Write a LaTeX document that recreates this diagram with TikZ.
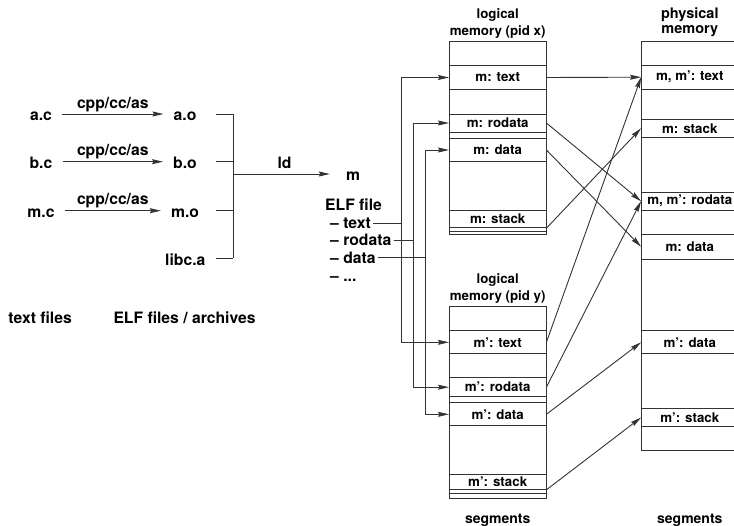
\documentclass[tikz,border=0pt]{standalone}
\usepackage{fontspec}
\setmainfont{TeX Gyre Heros}
\usetikzlibrary{arrows.meta,positioning}
\definecolor{linec}{gray}{0.2}

\begin{document}
\begin{tikzpicture}[x=1pt, y=-1pt,
    file/.style={font=\fontsize{15.7}{18}\selectfont\bfseries, text height=13.5pt, text depth=0pt, inner xsep=10pt, inner ysep=0pt},
    elf/.style={font=\fontsize{15.7}{18}\selectfont\bfseries, anchor=base west, inner xsep=2pt},
    lbl/.style={font=\fontsize{15.7}{18}\selectfont\bfseries, above, text depth=3.5pt, inner sep=2pt},
    note/.style={font=\fontsize{15.7}{18}\selectfont\bfseries, anchor=base west, inner sep=0pt},
    mem/.style={draw=linec, line width=0.9pt, minimum width=96.5pt, inner sep=0pt},
    seg/.style={mem, font=\fontsize{13.3}{16}\selectfont\bfseries},
    title/.style={align=center, anchor=south, inner sep=0pt},
    arrow/.style={draw=linec, line width=0.9pt, -{Stealth[length=11pt, width=5pt, inset=1.5pt]}},
    wire/.style={draw=linec, line width=0.9pt}
]
\useasboundingbox (0,0) rectangle (734,526);

% Source files
\node[file] (ac) at (41,114) {a.c};
\node[file] (bc) at (41,161.7) {b.c};
\node[file] (mc) at (41,210.7) {m.c};

% Object files and archive
\node[file] (ao) at (185,114) {a.o};
\node[file] (bo) at (185,161.7) {b.o};
\node[file] (mo) at (185,210.7) {m.o};
\node[file] (libc) at (185.3,258.3) {libc.a};

% Executable
\node[file] (m) at (353,174) {m};
\node[elf] (elf) at (323,210.7) {ELF file};
\node[elf] (etext) at (328,228.3) {-- text};
\node[elf] (erodata) at (328,245.7) {-- rodata};
\node[elf] (edata) at (328,263.3) {-- data};
\node[elf] (edots) at (328,281.7) {-- ...};

% Bottom notes
\node[note] (srcnote) at (8.3,324) {text files};
\node[note] (objnote) at (113.3,324) {ELF files / archives};

% Bus and column coordinates
\coordinate (stub) at (215.7,0);
\coordinate (bus) at (233.3,0);
\coordinate (tcol) at (401.7,0);
\coordinate (rcol) at (413.3,0);
\coordinate (dcol) at (425.7,0);

% Logical memory (pid x)
\node[mem, minimum height=192.8pt] (xmem) at (497.7,138.1) {};
\node[seg, minimum height=23.6pt] (xtext) at (497.7,77.5) {m: text};
\node[seg, minimum height=18pt] (xrodata) at (497.7,123) {m: rodata};
\node[seg, minimum height=23.4pt] (xdata) at (497.7,150) {m: data};
\node[seg, minimum height=17.7pt] (xstack) at (497.7,218.9) {m: stack};
\draw[wire] ([yshift=3.5pt]xmem.south west) -- ([yshift=3.5pt]xmem.south east);
\node[title, font=\fontsize{13.3}{17}\selectfont\bfseries, yshift=2.3pt] (xtitle) at (xmem.north) {logical\\memory (pid x)};

% Logical memory (pid y)
\node[mem, minimum height=191.6pt] (ymem) at (497.7,402.5) {};
\node[seg, minimum height=23.3pt] (ytext) at (497.7,342.3) {m’: text};
\node[seg, minimum height=19pt] (yrodata) at (497.7,387.2) {m’: rodata};
\node[seg, minimum height=23.3pt] (ydata) at (497.7,414.3) {m’: data};
\node[seg, minimum height=15.3pt] (ystack) at (497.7,481.7) {m’: stack};
\draw[wire] ([yshift=5pt]ymem.south west) -- ([yshift=5pt]ymem.south east);
\node[title, font=\fontsize{13.3}{17}\selectfont\bfseries, yshift=2.3pt] (ytitle) at (ymem.north) {logical\\memory (pid y)};
\node[font=\fontsize{14}{16}\selectfont\bfseries, anchor=base] (xseg) at (497.7,523) {segments};

% Physical memory
\node[mem, minimum height=409pt] (pmem) at (689.8,246.2) {};
\node[seg, minimum height=24.3pt] (ptext) at (689.8,77.2) {m, m’: text};
\node[seg, minimum height=18pt] (pstack) at (689.8,128.3) {m: stack};
\node[seg, minimum height=17.7pt] (prodata) at (689.8,201.2) {m, m’: rodata};
\node[seg, minimum height=25.3pt] (pdata) at (689.8,246.7) {m: data};
\node[seg, minimum height=23.3pt] (pydata) at (689.8,342.3) {m’: data};
\node[seg, minimum height=18.4pt] (pystack) at (689.8,417.5) {m’: stack};
\node[title, font=\fontsize{14.5}{14.5}\selectfont\bfseries, yshift=4.6pt] (ptitle) at (pmem.north) {physical\\memory};
\node[font=\fontsize{14}{16}\selectfont\bfseries, anchor=base] (pseg) at (689.8,523) {segments};

% Compile and link
\draw[arrow] (ac.east) -- (ao.west) node[lbl, midway] {cpp/cc/as};
\draw[arrow] (bc.east) -- (bo.west) node[lbl, midway] {cpp/cc/as};
\draw[arrow] (mc.east) -- (mo.west) node[lbl, midway] {cpp/cc/as};
\draw[wire] (ao -| stub) -- (ao -| bus);
\draw[wire] (bo -| stub) -- (bo -| bus);
\draw[wire] (mo -| stub) -- (mo -| bus);
\draw[wire] (libc -| stub) -- (libc -| bus);
\draw[wire] (ao -| bus) -- (libc -| bus);
\draw[arrow, shorten >=6pt] (bus |- m) -- (m.west) node[lbl, midway] {ld};

% Loading sections
\draw[arrow] (etext.east) -| (tcol |- xtext) -- (xtext.west);
\draw[arrow] (etext.east) -| (tcol |- ytext) -- (ytext.west);
\draw[arrow] (erodata.east) -| (rcol |- xrodata) -- (xrodata.west);
\draw[arrow] (erodata.east) -| (rcol |- yrodata) -- (yrodata.west);
\draw[arrow] (edata.east) -| (dcol |- xdata) -- (xdata.west);
\draw[arrow] (edata.east) -| (dcol |- ydata) -- (ydata.west);

% Mapping to physical memory
\draw[arrow] (xtext.east) -- (ptext.west);
\draw[arrow] (xrodata.east) -- (prodata.west);
\draw[arrow] (xdata.east) -- (pdata.west);
\draw[arrow] (xstack.south east) -- (pstack.west);
\draw[arrow] (ytext.east) -- (ptext.west);
\draw[arrow] (yrodata.east) -- (prodata.west);
\draw[arrow] (ydata.east) -- (pydata.west);
\draw[arrow] (ystack.south east) -- (pystack.west);

\end{tikzpicture}
\end{document}
